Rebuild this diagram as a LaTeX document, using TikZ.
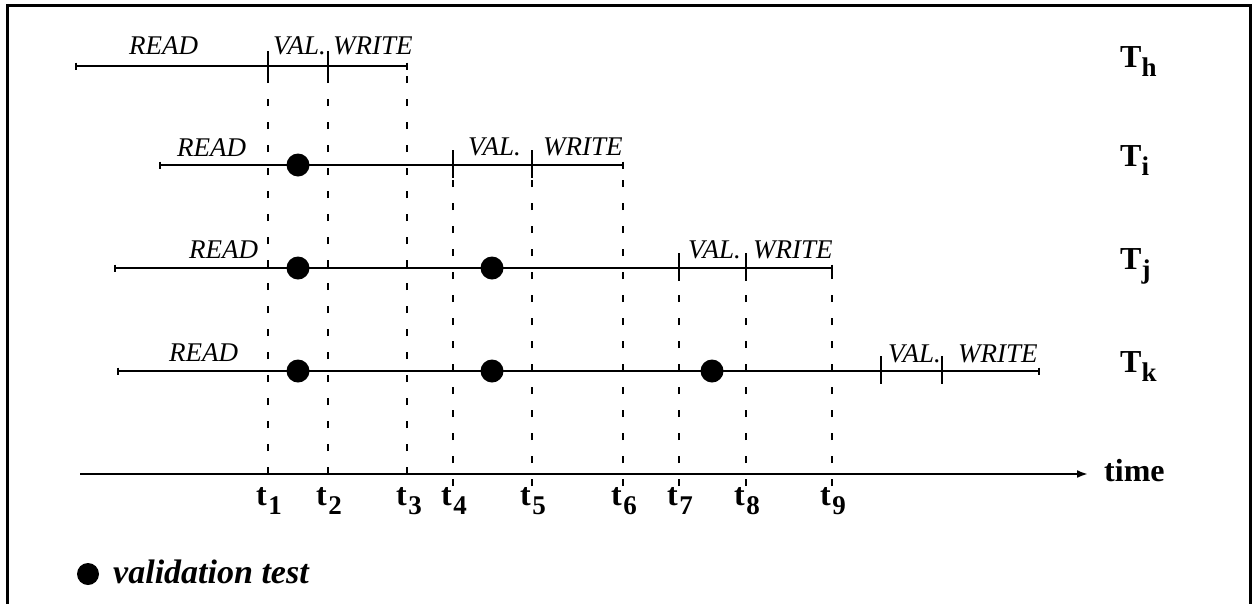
\documentclass[tikz,border=0pt]{standalone}
\usepackage{fontspec}
\setmainfont{Liberation Serif}
\usetikzlibrary{arrows.meta}
\begin{document}
\begin{tikzpicture}[x=1pt,y=-1pt,
  tl/.style={line width=1.6pt},
  tk/.style={line width=1.8pt},
  dsh/.style={line width=1.6pt, dash pattern=on 7pt off 16pt},
  ph/.style={font=\fontsize{27}{30}\selectfont\itshape, inner sep=0pt, anchor=base west},
  dot/.style={circle, fill=black, inner sep=0pt, minimum size=23pt},
  tn/.style={font=\fontsize{32}{36}\selectfont\bfseries, inner sep=0pt, anchor=base west},
  sb/.style={}
]
\useasboundingbox (0,0) rectangle (1255,603);
\newcommand{\subx}[1]{\raisebox{-9pt}{\fontsize{27}{30}\selectfont #1}}
% frame
\draw[line width=3pt] (7,615) -- (7,5) -- (1250,5) -- (1250,615);

% coordinates of the four transactions
\coordinate (h0) at (76,66);  \coordinate (h1) at (268,66);  \coordinate (h2) at (328,66);  \coordinate (h3) at (407,66);
\coordinate (i0) at (160,165); \coordinate (i1) at (453,165); \coordinate (i2) at (532,165); \coordinate (i3) at (623,165);
\coordinate (j0) at (115,268); \coordinate (j1) at (679,268); \coordinate (j2) at (746,268); \coordinate (j3) at (832,268);
\coordinate (k0) at (118,371); \coordinate (k1) at (881,371); \coordinate (k2) at (942,371); \coordinate (k3) at (1039,371);

% axis bottoms of dashed lines
\coordinate (b1) at (268,474); \coordinate (b2) at (328,474); \coordinate (b3) at (407,474);
\coordinate (b4) at (453,486); \coordinate (b5) at (532,486); \coordinate (b6) at (623,486);
\coordinate (b7) at (679,486); \coordinate (b8) at (746,486); \coordinate (b9) at (832,486);

% dashed lines
\draw[dsh] (b1) -- (h1);
\draw[dsh] (b2) -- (h2);
\draw[dsh] (b3) -- (h3);
\draw[dsh] (b4) -- (i1);
\draw[dsh] (b5) -- (i2);
\draw[dsh] (b6) -- (i3);
\draw[dsh] (b7) -- (j1);
\draw[dsh] (b8) -- (j2);
\draw[dsh] (b9) -- (j3);

% timelines
\foreach \t in {h,i,j,k}{
  \draw[tl] (\t0) -- (\t3);
  \draw[tk] ([yshift=3.5pt]\t0) -- ([yshift=-3.5pt]\t0);
  \draw[tk] ([yshift=3.5pt]\t3) -- ([yshift=-3.5pt]\t3);
  \draw[tk] ([yshift=15pt]\t1) -- ([yshift=-13pt]\t1);
  \draw[tk] ([yshift=15pt]\t2) -- ([yshift=-13pt]\t2);
}

% phase labels
\node[ph] (rh) at (129,54) {READ};
\node[ph] (vh) at (273,54) {VAL.};
\node[ph] (wh) at (333,54) {WRITE};
\node[ph] (ri) at (177,156) {READ};
\node[ph] (vi) at (468,155) {VAL.};
\node[ph] (wi) at (543,155) {WRITE};
\node[ph] (rj) at (189,258) {READ};
\node[ph] (vj) at (688,258) {VAL.};
\node[ph] (wj) at (753,258) {WRITE};
\node[ph] (rk) at (169,361) {READ};
\node[ph] (vk) at (888,362) {VAL.};
\node[ph] (wk) at (958,362) {WRITE};

% validation test dots
\node[dot] (di1) at (298,165) {};
\node[dot] (dj1) at (298,268) {};
\node[dot] (dj2) at (492,268) {};
\node[dot] (dk1) at (298,371) {};
\node[dot] (dk2) at (492,371) {};
\node[dot] (dk3) at (712,371) {};

% transaction names
\node[tn] (Th) at (1120,67) {T\subx{h}};
\node[tn] (Ti) at (1120,166) {T\subx{i}};
\node[tn] (Tj) at (1120,269) {T\subx{j}};
\node[tn] (Tk) at (1120,372) {T\subx{k}};

% time axis
\coordinate (ax0) at (80,474);
\coordinate (ax1) at (1088,474);
\draw[line width=2.6pt, -{Latex[length=11pt,width=8pt]}] (ax0) -- (ax1);
\node[tn] (time) at (1104,481) {time};

% time instants
\node[tn] (t1) at (256,505) {t\hspace{1.5pt}\subx{1}};
\node[tn] (t2) at (316,505) {t\hspace{1.5pt}\subx{2}};
\node[tn] (t3) at (396,505) {t\hspace{1.5pt}\subx{3}};
\node[tn] (t4) at (441,505) {t\hspace{1.5pt}\subx{4}};
\node[tn] (t5) at (520,505) {t\hspace{1.5pt}\subx{5}};
\node[tn] (t6) at (611,505) {t\hspace{1.5pt}\subx{6}};
\node[tn] (t7) at (667,505) {t\hspace{1.5pt}\subx{7}};
\node[tn] (t8) at (734,505) {t\hspace{1.5pt}\subx{8}};
\node[tn] (t9) at (820,505) {t\hspace{1.5pt}\subx{9}};

% legend
\node[dot, minimum size=22pt] (ld) at (88,574) {};
\node[font=\fontsize{34}{38}\selectfont\bfseries\itshape, inner sep=0pt, anchor=base west] (lt) at (113,583) {validation test};
\end{tikzpicture}
\end{document}
